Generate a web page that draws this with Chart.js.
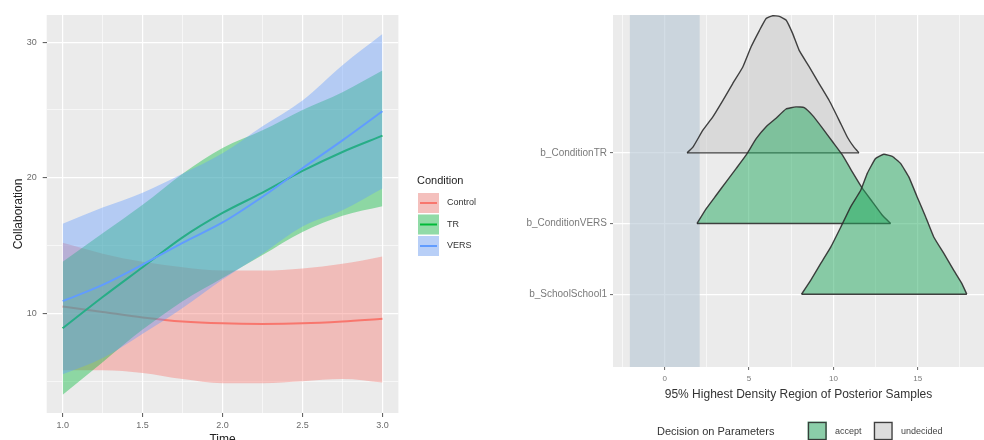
<!DOCTYPE html>
<html>
<head>
<meta charset="utf-8">
<script src="https://cdn.jsdelivr.net/npm/chart.js@4.4.0/dist/chart.umd.min.js"></script>
<style>
  body { margin: 0; background: #fff; width: 984px; height: 440px; overflow: hidden; position: relative; }
  #left { position: absolute; left: 0; top: 0; }
  #right { position: absolute; left: 500px; top: 0; }
</style>
</head>
<body>
<canvas id="left" width="515" height="452"></canvas>
<canvas id="right" width="484" height="440"></canvas>
<script>
// ---- left panel: smoothed Collaboration by Time ----
const time = [1.0, 1.25, 1.5, 1.75, 2.0, 2.25, 2.5, 2.75, 3.0];

const controlFit = [10.5, 10.1, 9.7, 9.4, 9.26, 9.22, 9.26, 9.4, 9.6];
const controlHi  = [15.2, 14.4, 13.8, 13.4, 13.15, 13.15, 13.3, 13.65, 14.2];
const controlLo  = [5.8, 5.8, 5.6, 5.15, 4.85, 4.85, 5.0, 5.15, 4.9];

const trFit = [8.9, 11.2, 13.4, 15.6, 17.4, 18.9, 20.5, 21.9, 23.1];
const trHi  = [13.8, 15.9, 18.0, 20.3, 22.2, 23.5, 25.0, 26.3, 27.9];
const trLo  = [4.0, 6.4, 8.8, 10.9, 12.6, 14.3, 16.0, 17.2, 17.9];

const versFit = [10.9, 12.1, 13.6, 15.2, 16.7, 18.6, 20.7, 22.75, 24.9];
const versHi  = [16.6, 17.8, 18.9, 20.3, 21.8, 23.8, 25.7, 28.3, 30.6];
const versLo  = [5.5, 6.7, 8.5, 10.4, 12.5, 14.4, 16.4, 17.6, 19.2];

const conditions = ['Control', 'TR', 'VERS'];
const conditionColors = ['#F8766D', '#00BA38', '#619CFF'];

const timeGrid = [1.0, 1.25, 1.5, 1.75, 2.0, 2.25, 2.5, 2.75, 3.0];
const timeMajor = [1.0, 1.5, 2.0, 2.5, 3.0];
const collabGrid = [5, 10, 15, 20, 25, 30];
const collabMajor = [10, 20, 30];

// ---- right panel: posterior densities ----
const params = ['b_SchoolSchool1', 'b_ConditionVERS', 'b_ConditionTR'];
const rope = [-2.07, 2.07];

const trX = [1.32, 1.67, 2.26, 2.85, 3.44, 4.03, 4.62, 5.12, 5.61, 6.01, 6.40, 6.79, 7.19, 7.58, 7.97, 8.56, 9.15, 9.75, 10.34, 10.83, 11.22, 11.52];
const trDens = [0, 0.08, 0.32, 0.51, 0.74, 0.98, 1.21, 1.50, 1.73, 1.90, 1.94, 1.93, 1.88, 1.69, 1.45, 1.22, 0.98, 0.74, 0.46, 0.22, 0.08, 0];

const versX = [1.91, 2.46, 3.05, 3.64, 4.24, 4.83, 5.42, 6.01, 6.60, 7.19, 7.78, 8.27, 8.76, 9.35, 9.94, 10.53, 11.12, 11.71, 12.30, 12.89, 13.39];
const versDens = [0, 0.21, 0.40, 0.59, 0.78, 0.97, 1.20, 1.37, 1.49, 1.62, 1.65, 1.64, 1.53, 1.35, 1.16, 0.97, 0.73, 0.50, 0.31, 0.12, 0];

const schoolX = [8.11, 8.66, 9.26, 9.85, 10.44, 11.03, 11.62, 12.01, 12.50, 12.99, 13.49, 13.98, 14.47, 14.96, 15.46, 15.95, 16.54, 17.13, 17.62, 17.91];
const schoolDens = [0, 0.20, 0.44, 0.67, 0.95, 1.24, 1.47, 1.71, 1.92, 1.98, 1.95, 1.85, 1.66, 1.38, 1.10, 0.81, 0.58, 0.34, 0.15, 0];

const decisions = ['accept', 'undecided'];
const decisionFill = ['rgba(35,170,95,0.5)', 'rgba(199,199,199,0.5)'];

const hdiGrid = [-2.5, 0, 2.5, 5, 7.5, 10, 12.5, 15, 17.5];
const hdiMajor = [0, 5, 10, 15];

const FONT = '"Liberation Sans", Arial, sans-serif';
const outline = 'rgba(45,45,45,0.9)';

function rgba(hex, a) {
  const n = parseInt(hex.slice(1), 16);
  return `rgba(${n >> 16},${(n >> 8) & 255},${n & 255},${a})`;
}

function pts(xs, ys, shift) {
  return xs.map((x, i) => ({ x: x, y: ys[i] + (shift || 0) }));
}

// panel background like ggplot grey92
const panelBg = {
  id: 'panelBg',
  beforeDraw(chart) {
    const a = chart.chartArea;
    chart.ctx.save();
    chart.ctx.fillStyle = '#EBEBEB';
    chart.ctx.fillRect(a.left, a.top, a.right - a.left, a.bottom - a.top);
    chart.ctx.restore();
  }
};

function ribbon(label, lo, fit, hi, color, base) {
  return [
    { label: label + ' hi', data: pts(time, hi), fill: '+1', backgroundColor: rgba(color, 0.4),
      borderColor: 'rgba(0,0,0,0)', borderWidth: 0, pointRadius: 0, cubicInterpolationMode: 'monotone', order: base + 2 },
    { label: label + ' lo', data: pts(time, lo), fill: false,
      borderColor: 'rgba(0,0,0,0)', borderWidth: 0, pointRadius: 0, cubicInterpolationMode: 'monotone', order: base + 1 },
    { label: label, data: pts(time, fit), fill: false, borderColor: color, borderWidth: 2,
      pointRadius: 0, cubicInterpolationMode: 'monotone', order: base }
  ];
}

const conditionLegend = {
  id: 'conditionLegend',
  afterDraw(chart) {
    const ctx = chart.ctx;
    ctx.save();
    ctx.textBaseline = 'middle';
    ctx.font = '11px ' + FONT;
    ctx.fillStyle = '#222';
    ctx.fillText('Condition', 417, 181);
    conditions.forEach((c, i) => {
      const top = 193 + i * 21.5;
      ctx.fillStyle = '#F2F2F2';
      ctx.fillRect(418, top, 21, 20);
      ctx.fillStyle = rgba(conditionColors[i], 0.4);
      ctx.fillRect(418, top, 21, 20);
      ctx.strokeStyle = conditionColors[i];
      ctx.lineWidth = 2;
      ctx.beginPath();
      ctx.moveTo(420, top + 10);
      ctx.lineTo(437, top + 10);
      ctx.stroke();
      ctx.fillStyle = '#333';
      ctx.font = '9px ' + FONT;
      ctx.fillText(c, 447, top + 10);
    });
    ctx.restore();
  }
};

new Chart(document.getElementById('left'), {
  type: 'line',
  data: {
    datasets: [
      ...ribbon('Control', controlLo, controlFit, controlHi, conditionColors[0], 7),
      ...ribbon('TR', trLo, trFit, trHi, conditionColors[1], 4),
      ...ribbon('VERS', versLo, versFit, versHi, conditionColors[2], 1)
    ]
  },
  options: {
    responsive: false,
    animation: false,
    layout: { padding: { left: 0, right: 116.6, top: 15, bottom: 0 } },
    plugins: {
      legend: { display: false },
      tooltip: { enabled: false },
      filler: { drawTime: 'beforeDatasetDraw' }
    },
    scales: {
      x: {
        type: 'linear', min: 0.9, max: 3.1,
        afterFit: s => { s.height = 39; },
        afterBuildTicks: s => { s.ticks = timeGrid.map(v => ({ value: v })); },
        border: { display: false },
        grid: {
          color: '#fff',
          lineWidth: c => (c.tick && timeMajor.includes(c.tick.value)) ? 1.2 : 0.6,
          tickLength: 4, tickWidth: 1,
          tickColor: c => (c.tick && timeMajor.includes(c.tick.value)) ? '#555' : 'rgba(0,0,0,0)'
        },
        ticks: {
          autoSkip: false, maxRotation: 0, padding: 3.5, color: '#6b6b6b',
          font: { family: FONT, size: 9 },
          callback: v => timeMajor.includes(v) ? v.toFixed(1) : ''
        },
        title: { display: true, text: 'Time', color: '#222', font: { family: FONT, size: 12 }, padding: { top: 0, bottom: 5 } }
      },
      y: {
        type: 'linear', min: 2.65, max: 32.0,
        afterFit: s => { s.width = 46.7; },
        afterBuildTicks: s => { s.ticks = collabGrid.map(v => ({ value: v })); },
        border: { display: false },
        grid: {
          color: '#fff',
          lineWidth: c => (c.tick && collabMajor.includes(c.tick.value)) ? 1.2 : 0.6,
          tickLength: 4, tickWidth: 1,
          tickColor: c => (c.tick && collabMajor.includes(c.tick.value)) ? '#555' : 'rgba(0,0,0,0)'
        },
        ticks: {
          autoSkip: false, padding: 6, color: '#6b6b6b',
          font: { family: FONT, size: 9 },
          callback: v => collabMajor.includes(v) ? String(v) : ''
        },
        title: { display: true, text: 'Collaboration', color: '#222', font: { family: FONT, size: 12 }, padding: { top: 11, bottom: 0 } }
      }
    }
  },
  plugins: [panelBg, conditionLegend]
});

// ---- right chart ----
function ridge(xs, dens, row, fillColor, base) {
  return [
    { data: pts(xs, dens, row), fill: { value: row }, backgroundColor: fillColor,
      borderColor: outline, borderWidth: 1.4, pointRadius: 0, tension: 0.12, order: base + 1 },
    { data: [{ x: xs[0], y: row }, { x: xs[xs.length - 1], y: row }], fill: false,
      borderColor: outline, borderWidth: 1.4, pointRadius: 0, order: base }
  ];
}

const ropeBand = {
  id: 'ropeBand',
  beforeDatasetsDraw(chart) {
    const x = chart.scales.x, a = chart.chartArea;
    const x0 = x.getPixelForValue(rope[0]), x1 = x.getPixelForValue(rope[1]);
    chart.ctx.save();
    chart.ctx.fillStyle = 'rgba(182,198,212,0.6)';
    chart.ctx.fillRect(x0, a.top, x1 - x0, a.bottom - a.top);
    chart.ctx.restore();
  }
};

const decisionLegend = {
  id: 'decisionLegend',
  afterDraw(chart) {
    const ctx = chart.ctx;
    ctx.save();
    ctx.textBaseline = 'middle';
    ctx.font = '11px ' + FONT;
    ctx.fillStyle = '#333';
    ctx.fillText('Decision on Parameters', 157, 431.5);
    const keyX = [307.5, 373.5];
    decisions.forEach((d, i) => {
      ctx.fillStyle = '#F2F2F2';
      ctx.fillRect(keyX[i], 421.5, 19.5, 19);
      ctx.fillStyle = decisionFill[i];
      ctx.fillRect(keyX[i], 421.5, 19.5, 19);
      ctx.strokeStyle = outline;
      ctx.lineWidth = 1.3;
      ctx.strokeRect(keyX[i] + 1, 422.5, 17.5, 17);
      ctx.fillStyle = '#444';
      ctx.font = '9px ' + FONT;
      ctx.fillText(d, keyX[i] + 27.5, 431.5);
    });
    ctx.restore();
  }
};

new Chart(document.getElementById('right'), {
  type: 'line',
  data: {
    datasets: [
      ...ridge(trX, trDens, 3, decisionFill[1], 5),
      ...ridge(versX, versDens, 2, decisionFill[0], 3),
      ...ridge(schoolX, schoolDens, 1, decisionFill[0], 1)
    ]
  },
  options: {
    responsive: false,
    animation: false,
    layout: { padding: { left: 0, right: 0, top: 15, bottom: 0 } },
    plugins: {
      legend: { display: false },
      tooltip: { enabled: false },
      filler: { drawTime: 'beforeDatasetDraw' }
    },
    scales: {
      x: {
        type: 'linear', min: -3.07, max: 18.93,
        afterFit: s => { s.height = 73; },
        afterBuildTicks: s => { s.ticks = hdiGrid.map(v => ({ value: v })); },
        border: { display: false },
        grid: {
          color: '#fff',
          lineWidth: c => (c.tick && hdiMajor.includes(c.tick.value)) ? 1.2 : 0.6,
          tickLength: 3, tickWidth: 1,
          tickColor: c => (c.tick && hdiMajor.includes(c.tick.value)) ? '#666' : 'rgba(0,0,0,0)'
        },
        ticks: {
          autoSkip: false, maxRotation: 0, padding: 3.5, color: '#7a7a7a',
          font: { family: FONT, size: 8 },
          callback: v => hdiMajor.includes(v) ? String(v) : ''
        },
        title: { display: true, text: '95% Highest Density Region of Posterior Samples', color: '#333',
          font: { family: FONT, size: 12 }, padding: { top: 0, bottom: 38.5 } }
      },
      y: {
        type: 'linear', min: -0.03, max: 4.95,
        afterFit: s => { s.width = 113; },
        afterBuildTicks: s => { s.ticks = params.map((p, i) => ({ value: i + 1 })); },
        border: { display: false },
        grid: { color: '#fff', lineWidth: 1.2, tickLength: 3, tickWidth: 1, tickColor: '#666' },
        ticks: {
          autoSkip: false, padding: 3, color: '#7a7a7a',
          font: { family: FONT, size: 10 },
          callback: v => params[v - 1]
        }
      }
    }
  },
  plugins: [panelBg, ropeBand, decisionLegend]
});
</script>
</body>
</html>
